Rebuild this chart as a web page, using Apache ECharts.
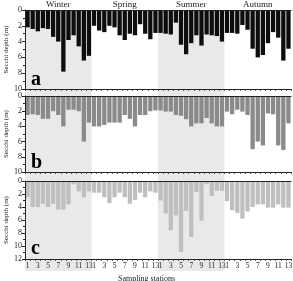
<!DOCTYPE html>
<html>
<head>
<meta charset="utf-8">
<script src="https://cdn.jsdelivr.net/npm/echarts@6/dist/echarts.min.js"></script>
<style>html,body{margin:0;padding:0;background:#fff}#c{width:293px;height:281px}</style>
</head>
<body>
<div id="c"></div>
<script>
// Data (Secchi depth, m), 13 stations per season: Winter, Spring, Summer, Autumn
var seasons = ['Winter', 'Spring', 'Summer', 'Autumn'];
var stationLabels = ['1','2','3','4','5','6','7','8','9','10','11','12','13'];
var panelA = [
  2.2, 2.4, 2.7, 2.3, 2.4, 3.4, 4.0, 7.8, 3.8, 3.2, 4.6, 6.4, 5.8,
  2.0, 2.6, 2.8, 2.0, 2.2, 3.2, 3.8, 3.0, 3.2, 1.8, 3.0, 3.7, 2.9,
  2.9, 3.0, 3.1, 1.6, 4.4, 5.6, 4.2, 3.2, 4.5, 3.1, 3.2, 3.3, 4.0,
  2.9, 2.9, 3.0, 1.9, 2.5, 4.9, 6.0, 5.7, 4.2, 2.8, 3.5, 6.4, 4.9
];
var panelB = [
  2.5, 2.4, 2.5, 3.0, 3.0, 2.0, 2.5, 4.0, 1.8, 1.8, 2.0, 6.0, 3.5,
  4.0, 4.0, 3.8, 3.5, 3.5, 3.5, 2.5, 3.0, 4.0, 2.5, 2.5, 2.0, 1.9,
  1.9, 2.05, 2.05, 2.5, 2.6, 3.05, 4.0, 3.6, 3.6, 2.9, 3.6, 4.0, 4.0,
  2.05, 2.4, 1.8, 2.05, 2.5, 7.0, 6.0, 6.5, 2.3, 2.4, 6.5, 7.1, 3.6
];
var panelC = [
  2.5, 4.0, 4.0, 3.5, 4.0, 3.5, 4.4, 4.4, 3.6, 0.5, 1.6, 2.5, 1.6,
  1.8, 1.8, 2.5, 3.4, 2.5, 1.8, 2.5, 3.5, 2.9, 1.8, 2.5, 1.6, 1.8,
  3.0, 5.0, 7.6, 5.3, 10.9, 4.6, 8.6, 1.7, 6.1, 0.5, 2.3, 1.5, 1.5,
  3.1, 4.5, 4.9, 5.8, 4.7, 4.0, 3.6, 3.6, 4.1, 4.1, 3.6, 4.1, 4.1
];
var yMaxAB = 10;
var yMaxC = 12;
var yStep = 2;

var categories = [];
seasons.forEach(function (s) { stationLabels.forEach(function (l) { categories.push(l); }); });

var FONT = 'Liberation Serif';
var chart = echarts.init(document.getElementById('c'), null, {renderer: 'canvas'});

var L = 25, R = 2;
var gridBase = {left: L, right: R, containLabel: false, outerBoundsMode: 'none'};
var grids = [
  Object.assign({top: 10, bottom: 10}, gridBase),
  Object.assign({top: 10, height: 79}, gridBase),
  Object.assign({top: 96, height: 76}, gridBase),
  Object.assign({top: 181, height: 78}, gridBase)
];

var xAxes = [{gridIndex: 0, type: 'value', min: 0, max: 52, show: false}];
var yAxes = [{gridIndex: 0, type: 'value', min: 0, max: 1, show: false}];
var panels = [panelA, panelB, panelC];
var colors = ['#0d0d0d', '#8a8a8a', '#bfbfbf'];
var letters = ['a', 'b', 'c'];

for (var p = 0; p < 3; p++) {
  var gi = p + 1;
  var isC = p === 2;
  xAxes.push({
    gridIndex: gi, type: 'category', data: categories, position: 'bottom', z: 6,
    axisLine: {show: true, onZero: false, lineStyle: {color: '#222', width: 1}},
    axisTick: {show: true, interval: 0, length: 2, lineStyle: {color: '#333', width: 0.8}},
    axisLabel: {
      show: isC, interval: 0, margin: 3, fontFamily: FONT, fontSize: 7.5, color: '#222',
      hideOverlap: false,
      formatter: function (v) { return (parseInt(v, 10) % 2 === 1) ? v : ''; }
    },
    splitLine: {show: false}
  });
  xAxes.push({
    gridIndex: gi, type: 'category', data: categories, position: 'top', z: 6,
    axisLine: {show: true, onZero: false, lineStyle: {color: '#222', width: 1}},
    axisTick: {show: false}, axisLabel: {show: false}, splitLine: {show: false}
  });
  yAxes.push({
    gridIndex: gi, type: 'value', inverse: true, min: 0, max: isC ? yMaxC : yMaxAB, interval: yStep,
    position: 'left', z: 6,
    name: 'Secchi depth (m)', nameLocation: 'middle', nameGap: 15, nameRotate: 90,
    nameMoveOverlap: false,
    nameTextStyle: {fontFamily: FONT, fontSize: 7, color: '#222'},
    axisLine: {show: true, onZero: false, lineStyle: {color: '#222', width: 1}},
    axisTick: {show: true, length: 3, lineStyle: {color: '#222'}},
    minorTick: {show: true, splitNumber: 2, length: 2, lineStyle: {color: '#222'}},
    axisLabel: {show: true, fontFamily: FONT, fontSize: 8, color: '#222', margin: 3, hideOverlap: false},
    splitLine: {show: false}
  });
}

var series = [{
  type: 'bar', xAxisIndex: 0, yAxisIndex: 0, data: [], silent: true, z: 0, zlevel: 0,
  markArea: {
    silent: true, z: 0,
    label: {show: true, position: 'top', distance: 1, fontFamily: FONT, fontSize: 9, color: '#222'},
    data: [
      [{name: seasons[0], xAxis: 0, yAxis: 0, itemStyle: {color: '#e9e9e9'}}, {xAxis: 13, yAxis: 1}],
      [{name: seasons[1], xAxis: 13, yAxis: 0, itemStyle: {color: 'rgba(0,0,0,0)'}}, {xAxis: 26, yAxis: 1}],
      [{name: seasons[2], xAxis: 26, yAxis: 0, itemStyle: {color: '#e9e9e9'}}, {xAxis: 39, yAxis: 1}],
      [{name: seasons[3], xAxis: 39, yAxis: 0, itemStyle: {color: 'rgba(0,0,0,0)'}}, {xAxis: 52, yAxis: 1}]
    ]
  }
}];
for (var q = 0; q < 3; q++) {
  series.push({
    type: 'bar', xAxisIndex: 1 + q * 2, yAxisIndex: q + 1, data: panels[q],
    barCategoryGap: '16%', itemStyle: {color: colors[q]}, silent: true, z: 3
  });
}

var graphics = [];
var letterTops = [70, 153, 239];
for (var k = 0; k < 3; k++) {
  graphics.push({type: 'text', x: 31, y: letterTops[k], z: 100,
    style: {text: letters[k], fontFamily: FONT, fontSize: 20, fontWeight: 'bold', fill: '#000'}});
}

chart.setOption({
  animation: false,
  grid: grids,
  xAxis: xAxes,
  yAxis: yAxes,
  series: series,
  graphic: {elements: graphics},
  title: {text: 'Sampling stations', left: 'center', top: 270,
    textStyle: {fontFamily: FONT, fontSize: 8, fontWeight: 'normal', color: '#222'}}
});
</script>
</body>
</html>
